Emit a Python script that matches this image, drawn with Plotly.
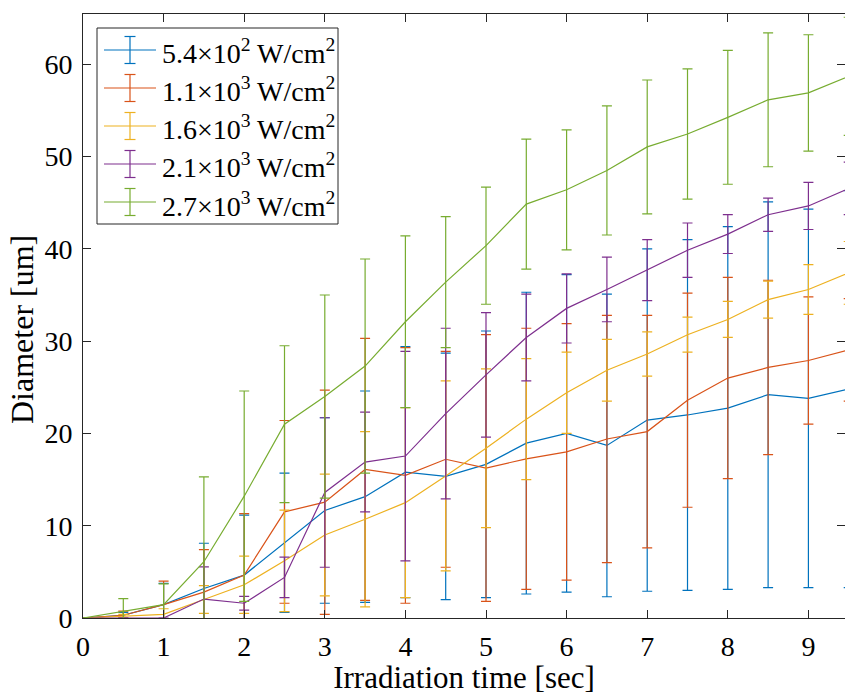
import plotly.graph_objects as go

x = [0, 0.5, 1, 1.5, 2, 2.5, 3, 3.5, 4, 4.5, 5, 5.5, 6, 6.5, 7, 7.5, 8, 8.5, 9, 9.5]

labels = [
    "5.4×10<sup>2</sup> W/cm<sup>2</sup>",
    "1.1×10<sup>3</sup> W/cm<sup>2</sup>",
    "1.6×10<sup>3</sup> W/cm<sup>2</sup>",
    "2.1×10<sup>3</sup> W/cm<sup>2</sup>",
    "2.7×10<sup>3</sup> W/cm<sup>2</sup>",
]
colors = ["#0072BD", "#D95319", "#EDB120", "#7E2F8E", "#77AC30"]

blue_mean = [0, 0.3, 1.45, 3.2, 4.65, 8.15, 11.65, 13.15, 15.8, 15.35, 16.65, 18.95, 20.0, 18.7, 21.45, 22.0, 22.75, 24.2, 23.8, 24.8]
blue_err = [0, 0.3, 2.3, 4.9, 6.5, 7.55, 10.05, 11.45, 13.6, 13.35, 14.45, 16.35, 17.2, 16.4, 18.55, 19.0, 19.65, 20.9, 20.5, 21.5]

red_mean = [0, 0.3, 1.45, 2.8, 4.65, 11.5, 12.55, 16.1, 15.45, 17.2, 16.25, 17.25, 18.0, 19.4, 20.2, 23.6, 26.0, 27.15, 27.9, 29.05]
red_err = [0, 0.45, 2.55, 4.6, 6.65, 9.9, 12.15, 14.2, 13.85, 11.7, 14.45, 14.15, 13.9, 13.4, 12.6, 11.6, 10.9, 9.45, 6.9, 5.55]

yellow_mean = [0, 0.2, 0.4, 2.0, 3.6, 6.2, 9.0, 10.7, 12.5, 15.4, 18.4, 21.55, 24.4, 26.85, 28.6, 30.7, 32.35, 34.5, 35.6, 37.4]
yellow_err = [0, 0.2, 0.6, 1.5, 3.1, 5.5, 6.6, 9.5, 10.3, 10.3, 8.6, 6.55, 4.4, 3.35, 2.4, 1.9, 1.95, 2.0, 2.7, 3.4]

purple_mean = [0, 0, 0, 2.05, 1.6, 4.4, 13.6, 16.9, 17.55, 22.15, 26.35, 30.4, 33.55, 35.6, 37.7, 39.85, 41.6, 43.7, 44.65, 46.55]
purple_err = [0, 0, 0, 3.5, 0.75, 2.2, 8.1, 5.4, 11.35, 9.25, 6.75, 4.7, 3.75, 3.5, 3.3, 2.95, 2.1, 1.8, 2.55, 2.85]

green_mean = [0, 0.75, 1.45, 6.1, 13.2, 21.0, 24.0, 27.3, 32.1, 36.4, 40.35, 44.85, 46.4, 48.5, 51.05, 52.45, 54.25, 56.15, 56.9, 58.7]
green_err = [0, 1.35, 2.25, 9.2, 11.4, 8.5, 11.0, 11.6, 9.3, 7.1, 6.35, 7.05, 6.5, 7.0, 7.25, 7.05, 7.25, 7.25, 6.3, 6.4]

means = [blue_mean, red_mean, yellow_mean, purple_mean, green_mean]
errs = [blue_err, red_err, yellow_err, purple_err, green_err]

x_ticks = [0, 1, 2, 3, 4, 5, 6, 7, 8, 9]
y_ticks = [0, 10, 20, 30, 40, 50, 60]

FONT = "Liberation Serif, Times New Roman, serif"
AX = "#262626"

W, H = 845, 695
ML, MR, MT, MB = 83, 0, 14, 77
PW, PH = W - ML - MR, H - MT - MB

fig = go.Figure()
for lab, col, m, e in zip(labels, colors, means, errs):
    fig.add_trace(go.Scatter(
        x=x, y=m, name=lab, mode="lines", showlegend=False,
        line=dict(color=col, width=1.2),
        error_y=dict(type="data", array=e, visible=True, color=col,
                     thickness=1.2, width=5),
    ))

# invisible trace to carry right-side ticks
fig.add_trace(go.Scatter(x=[0], y=[0], yaxis="y2", showlegend=False,
                         mode="markers", marker=dict(opacity=0),
                         hoverinfo="skip"))

def px_x(p):
    return (p - ML) / PW

def px_y(p):
    return (H - MB - p) / PH

# legend (pixels): box, line + error-bar glyph, label text
BOX_L, BOX_T, BOX_R, BOX_B = 97, 28, 338, 224
ROW0, ROWSTEP = 50, 38
LINE_L, LINE_R = BOX_L + 7, BOX_L + 59
GLYPH_X = (LINE_L + LINE_R) / 2
TEXT_L = BOX_L + 63
HALF_V, HALF_CAP = 13.5, 5.5

shapes = [dict(type="rect", xref="paper", yref="paper",
               x0=px_x(BOX_L), x1=px_x(BOX_R), y0=px_y(BOX_B), y1=px_y(BOX_T),
               fillcolor="white", line=dict(color=AX, width=1), layer="above")]
for i, (lab, col) in enumerate(zip(labels, colors)):
    cy = ROW0 + i * ROWSTEP
    ln = dict(color=col, width=1.2)
    shapes.append(dict(type="line", xref="paper", yref="paper",
                       x0=px_x(LINE_L), x1=px_x(LINE_R), y0=px_y(cy), y1=px_y(cy),
                       line=ln, layer="above"))
    shapes.append(dict(type="line", xref="paper", yref="paper",
                       x0=px_x(GLYPH_X), x1=px_x(GLYPH_X),
                       y0=px_y(cy - HALF_V), y1=px_y(cy + HALF_V),
                       line=ln, layer="above"))
    for dy in (-HALF_V, HALF_V):
        shapes.append(dict(type="line", xref="paper", yref="paper",
                           x0=px_x(GLYPH_X - HALF_CAP), x1=px_x(GLYPH_X + HALF_CAP),
                           y0=px_y(cy + dy), y1=px_y(cy + dy),
                           line=ln, layer="above"))
    fig.add_annotation(text=lab, showarrow=False, xref="paper", yref="paper",
                       x=px_x(TEXT_L), y=px_y(cy + 2), xanchor="left",
                       yanchor="middle",
                       font=dict(family=FONT, size=28, color="black"))

fig.add_annotation(text="Diameter [um]", textangle=-90, showarrow=False,
                   xref="paper", yref="paper", x=px_x(22), y=px_y(330),
                   xanchor="center", yanchor="middle",
                   font=dict(family=FONT, size=32, color="black"))

fig.update_layout(
    width=W, height=H,
    margin=dict(l=ML, r=MR, t=MT, b=MB),
    paper_bgcolor="white", plot_bgcolor="white",
    font=dict(family=FONT, color=AX, size=28),
    showlegend=False,
    shapes=shapes,
    xaxis=dict(
        range=[0, 9.454], tickvals=x_ticks, ticks="inside", ticklen=8,
        tickcolor=AX, showline=True, linecolor=AX, linewidth=1,
        mirror="ticks", showgrid=False, zeroline=False,
        ticklabelstandoff=3,
        tickfont=dict(family=FONT, size=28, color="black"),
        title=dict(text="Irradiation time [sec]", standoff=13,
                   font=dict(family=FONT, size=31, color="black")),
    ),
    yaxis=dict(
        range=[0, 65.45], tickvals=y_ticks, ticks="inside", ticklen=8,
        tickcolor=AX, showline=True, linecolor=AX, linewidth=1,
        showgrid=False, zeroline=False,
        ticklabelstandoff=4,
        tickfont=dict(family=FONT, size=28, color="black"),
    ),
    yaxis2=dict(
        range=[0, 65.45], tickvals=y_ticks, ticks="inside", ticklen=8,
        tickcolor=AX, overlaying="y", side="right", showline=False,
        showgrid=False, zeroline=False, showticklabels=False,
    ),
)

fig.write_html("out.html")
